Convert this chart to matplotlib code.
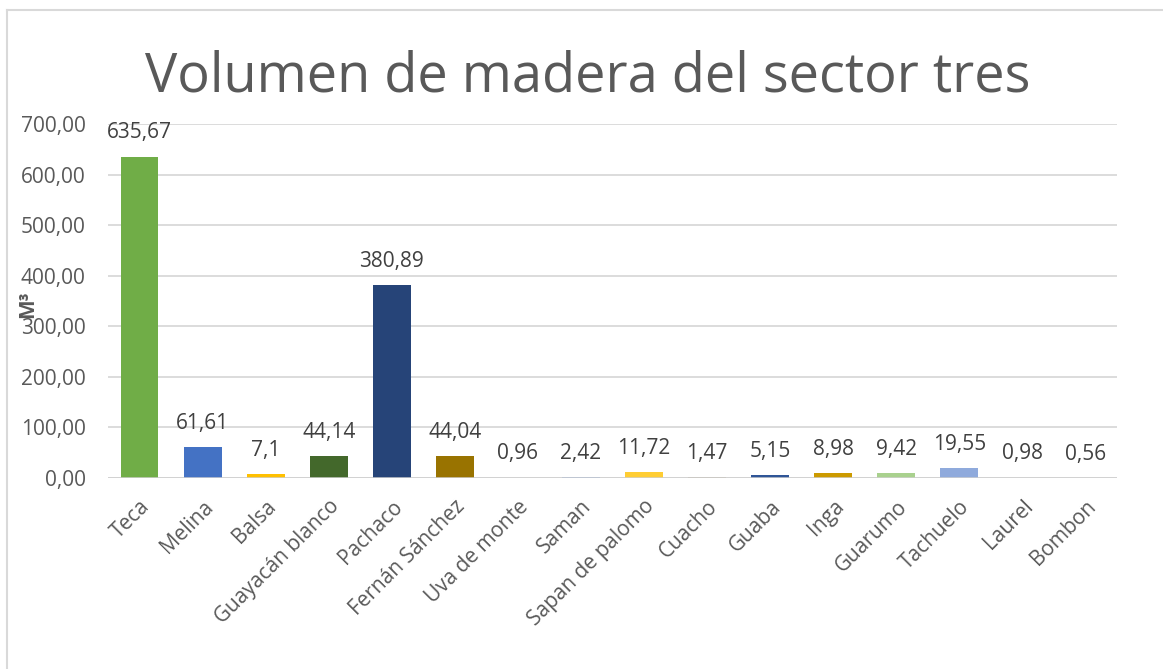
import numpy as np
import matplotlib as mat
mat.use('Agg')
import matplotlib.pyplot as plt
from matplotlib.lines import Line2D

especies = ['Teca', 'Melina', 'Balsa', 'Guayacán blanco', 'Pachaco', 'Fernán Sánchez',
            'Uva de monte', 'Saman', 'Sapan de palomo', 'Cuacho', 'Guaba', 'Inga',
            'Guarumo', 'Tachuelo', 'Laurel', 'Bombon']
volumen = [635.67, 61.61, 7.1, 44.14, 380.89, 44.04, 0.96, 2.42, 11.72, 1.47,
           5.15, 8.98, 9.42, 19.55, 0.98, 0.56]
etiquetas = ['635,67', '61,61', '7,1', '44,14', '380,89', '44,04', '0,96', '2,42',
             '11,72', '1,47', '5,15', '8,98', '9,42', '19,55', '0,98', '0,56']
colores = ['#70AD47', '#4472C4', '#FFC000', '#43682B', '#264478', '#997300',
           '#A9D18E', '#8FAADC', '#FFCD33', '#BDB7A4', '#2F5597', '#CC9A00',
           '#A9D18E', '#8FAADC', '#E2D9B8', '#A5A5A5']
yticks = [0, 100, 200, 300, 400, 500, 600, 700]

plt.rcParams['font.family'] = ['Open Sans', 'DejaVu Sans']
gris = '#595959'

fig = plt.figure(figsize=(11.63, 6.69), dpi=100)
ax = fig.add_axes([108 / 1163, 1 - 478 / 669, (1117 - 108) / 1163, (478 - 124) / 669])

x = np.arange(len(especies))
ax.bar(x, volumen, width=0.6, color=colores, zorder=3)
for xi, v, t in zip(x, volumen, etiquetas):
    ax.annotate(t, (xi, v), xytext=(0, 13), textcoords='offset points',
                ha='center', va='baseline', fontsize=15, color='#404040')

ax.set_xlim(-0.5, len(especies) - 0.5)
ax.set_ylim(0, 700)
ax.set_yticks(yticks)
ax.set_yticklabels(['%d,00' % t for t in yticks], fontsize=15, color=gris)
ax.set_xticks(x)
ax.set_xticklabels(especies, rotation=45, ha='right', rotation_mode='anchor',
                   fontsize=15, color=gris)
ax.tick_params(axis='y', length=0, pad=16)
ax.tick_params(axis='x', length=0, pad=13)
ax.grid(axis='y', color='#D9D9D9', linewidth=1.3, zorder=0)
for s in ax.spines.values():
    s.set_visible(False)
ax.axhline(0, color='#D0D0D0', linewidth=1.8, zorder=4)

ax.set_ylabel('M³', fontsize=15, fontweight='bold', color=gris, labelpad=0)
ax.yaxis.set_label_coords(-70 / 1009, 0.49)

fig.text(0.505, 1 - 92 / 669, 'Volumen de madera del sector tres', ha='center', va='baseline',
         fontsize=39, color=gris)

# marco del grafico
fig.add_artist(Line2D([7 / 1163, 7 / 1163], [0, 1 - 10 / 669], transform=fig.transFigure,
                      color='#D9D9D9', linewidth=1.5))
fig.add_artist(Line2D([7 / 1163, 1], [1 - 10 / 669, 1 - 10 / 669], transform=fig.transFigure,
                      color='#D9D9D9', linewidth=1.5))

plt.savefig('out.png')
